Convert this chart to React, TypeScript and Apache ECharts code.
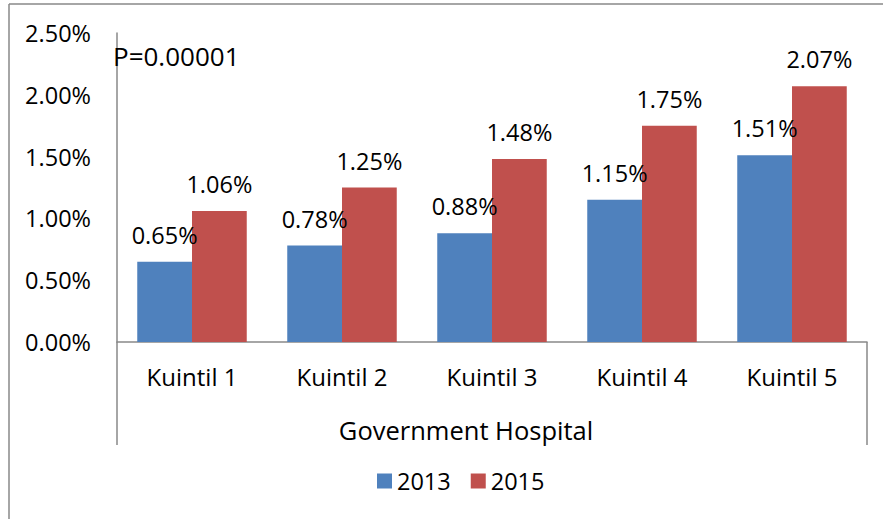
import React, { useEffect, useRef } from "react";
import * as echarts from "echarts";

const categories = ["Kuintil 1", "Kuintil 2", "Kuintil 3", "Kuintil 4", "Kuintil 5"];
const values2013 = [0.0065, 0.0078, 0.0088, 0.0115, 0.0151];
const values2015 = [0.0106, 0.0125, 0.0148, 0.0175, 0.0207];
const seriesNames = ["2013", "2015"];
const axisTitle = "Government Hospital";
const pText = "P=0.00001";

const FONT = "'Open Sans', 'Noto Sans', sans-serif";
const GRAY = "#898989";

export default function App() {
  const ref = useRef<HTMLDivElement>(null);
  useEffect(() => {
    if (!ref.current) return;
    const chart = echarts.init(ref.current, null, { renderer: "svg" });
    const pct = (v: number) => (v * 100).toFixed(2) + "%";
    const labelCfg = {
      show: true,
      position: "top",
      distance: 15,
      formatter: (p: any) => pct(p.value),
      fontSize: 23.5,
      color: "#000",
      fontFamily: FONT,
    };
    chart.setOption({
      animation: false,
      backgroundColor: "#fff",
      textStyle: { fontFamily: FONT },
      grid: { left: 117, right: 16, top: 33, bottom: 177, containLabel: false },
      xAxis: {
        type: "category",
        data: categories,
        axisLine: { show: true, lineStyle: { color: GRAY, width: 1.5 } },
        axisTick: { show: false },
        axisLabel: { interval: 0, margin: 22, fontSize: 24, color: "#000", fontFamily: FONT },
      },
      yAxis: {
        type: "value",
        min: 0,
        max: 0.025,
        interval: 0.005,
        splitLine: { show: false },
        axisLine: { show: true, lineStyle: { color: GRAY, width: 1.5 } },
        axisTick: { show: false },
        axisLabel: {
          formatter: (v: number) => pct(v),
          margin: 26,
          fontSize: 23.5,
          color: "#000",
          fontFamily: FONT,
        },
      },
      legend: {
        data: seriesNames,
        top: 464,
        left: 372,
        itemWidth: 15,
        itemHeight: 15,
        itemGap: 20,
        icon: "rect",
        textStyle: { fontSize: 23.5, color: "#000", fontFamily: FONT },
      },
      series: [
        {
          name: seriesNames[0],
          type: "bar",
          data: values2013,
          barGap: "0%",
          barCategoryGap: "27%",
          itemStyle: { color: "#4F81BD" },
          label: labelCfg,
        },
        {
          name: seriesNames[1],
          type: "bar",
          data: values2015,
          barGap: "0%",
          barCategoryGap: "27%",
          itemStyle: { color: "#C0504D" },
          label: labelCfg,
        },
      ],
      graphic: [
        { type: "line", shape: { x1: 9, y1: 4, x2: 883, y2: 4 }, style: { stroke: GRAY, lineWidth: 1.5 } },
        { type: "line", shape: { x1: 9, y1: 4, x2: 9, y2: 519 }, style: { stroke: GRAY, lineWidth: 1.5 } },
        { type: "line", shape: { x1: 117, y1: 342, x2: 117, y2: 445 }, style: { stroke: GRAY, lineWidth: 1.5 } },
        { type: "line", shape: { x1: 867, y1: 342, x2: 867, y2: 445 }, style: { stroke: GRAY, lineWidth: 1.5 } },
        {
          type: "text",
          x: 466,
          y: 430,
          style: {
            text: axisTitle,
            fontSize: 25.5,
            fill: "#000",
            fontFamily: FONT,
            align: "center",
            verticalAlign: "middle",
          },
        },
        {
          type: "text",
          left: 113,
          top: 43,
          z: 10,
          style: { text: pText, fontSize: 26, fill: "#000", fontFamily: FONT },
        },
      ],
    });
    return () => chart.dispose();
  }, []);
  return <div ref={ref} style={{ position: "fixed", left: 0, top: 0, width: 883, height: 519 }} />;
}
